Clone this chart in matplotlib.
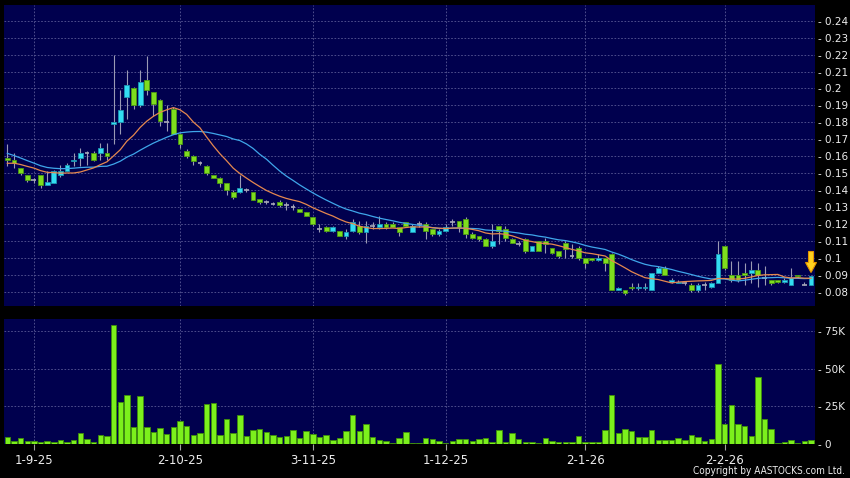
import numpy as np
import matplotlib
matplotlib.use('Agg')
import matplotlib.pyplot as plt
from matplotlib.patches import Rectangle, Polygon
from matplotlib.transforms import ScaledTranslation

# ---------------- data ----------------
tick_labels = ['1-9-25', '2-10-25', '3-11-25', '1-12-25', '2-1-26', '2-2-26']
tick_index = [4, 26, 46, 66, 87, 108]

open_ = [0.159, 0.158, 0.153, 0.149, 0.146, 0.149, 0.143, 0.144, 0.149, 0.151,
         0.157, 0.159, 0.162, 0.162, 0.162, 0.162, 0.179, 0.180, 0.195, 0.200,
         0.190, 0.205, 0.198, 0.193, 0.180, 0.188, 0.173, 0.163, 0.160, 0.156,
         0.154, 0.149, 0.147, 0.144, 0.139, 0.139, 0.140, 0.139, 0.135, 0.133,
         0.132, 0.133, 0.131, 0.130, 0.129, 0.127, 0.124, 0.117, 0.118, 0.116,
         0.116, 0.113, 0.116, 0.119, 0.115, 0.119, 0.118, 0.120, 0.120, 0.118,
         0.121, 0.115, 0.120, 0.120, 0.117, 0.114, 0.116, 0.121, 0.122, 0.123,
         0.114, 0.113, 0.111, 0.107, 0.119, 0.117, 0.111, 0.108, 0.111, 0.104,
         0.110, 0.110, 0.106, 0.104, 0.109, 0.101, 0.106, 0.100, 0.100, 0.099,
         0.100, 0.102, 0.081, 0.081, 0.083, 0.082, 0.082, 0.081, 0.091, 0.094,
         0.086, 0.085, 0.085, 0.084, 0.081, 0.084, 0.083, 0.085, 0.107, 0.090,
         0.090, 0.091, 0.091, 0.093, 0.088, 0.087, 0.087, 0.086, 0.084, 0.090,
         0.084, 0.084]
high = [0.167, 0.162, 0.153, 0.149, 0.147, 0.149, 0.151, 0.152, 0.155, 0.156,
        0.162, 0.165, 0.163, 0.163, 0.168, 0.168, 0.220, 0.199, 0.211, 0.201,
        0.211, 0.219, 0.198, 0.194, 0.190, 0.189, 0.174, 0.164, 0.161, 0.157,
        0.155, 0.149, 0.148, 0.144, 0.140, 0.149, 0.141, 0.139, 0.135, 0.134,
        0.133, 0.134, 0.133, 0.132, 0.129, 0.127, 0.124, 0.120, 0.119, 0.119,
        0.116, 0.117, 0.123, 0.122, 0.122, 0.121, 0.125, 0.121, 0.121, 0.118,
        0.121, 0.120, 0.122, 0.121, 0.117, 0.117, 0.120, 0.123, 0.122, 0.124,
        0.115, 0.113, 0.112, 0.120, 0.119, 0.119, 0.112, 0.110, 0.112, 0.107,
        0.110, 0.112, 0.106, 0.104, 0.110, 0.108, 0.107, 0.100, 0.100, 0.102,
        0.100, 0.103, 0.083, 0.081, 0.085, 0.085, 0.085, 0.091, 0.095, 0.095,
        0.088, 0.087, 0.086, 0.085, 0.085, 0.086, 0.086, 0.110, 0.107, 0.098,
        0.098, 0.097, 0.098, 0.097, 0.095, 0.087, 0.087, 0.088, 0.094, 0.090,
        0.086, 0.089]
low = [0.154, 0.153, 0.149, 0.145, 0.144, 0.141, 0.143, 0.144, 0.148, 0.151,
       0.154, 0.154, 0.155, 0.157, 0.158, 0.158, 0.167, 0.173, 0.182, 0.188,
       0.189, 0.196, 0.184, 0.178, 0.175, 0.173, 0.165, 0.159, 0.155, 0.155,
       0.149, 0.147, 0.142, 0.137, 0.135, 0.138, 0.139, 0.134, 0.132, 0.132,
       0.131, 0.130, 0.128, 0.128, 0.127, 0.125, 0.119, 0.115, 0.115, 0.115,
       0.113, 0.111, 0.115, 0.114, 0.109, 0.117, 0.117, 0.117, 0.118, 0.113,
       0.119, 0.115, 0.118, 0.111, 0.113, 0.113, 0.116, 0.119, 0.115, 0.112,
       0.111, 0.110, 0.107, 0.106, 0.108, 0.110, 0.109, 0.107, 0.103, 0.104,
       0.104, 0.103, 0.102, 0.100, 0.100, 0.100, 0.099, 0.094, 0.098, 0.098,
       0.092, 0.081, 0.081, 0.078, 0.081, 0.081, 0.081, 0.081, 0.091, 0.090,
       0.085, 0.085, 0.084, 0.080, 0.080, 0.081, 0.082, 0.085, 0.093, 0.086,
       0.086, 0.084, 0.085, 0.083, 0.084, 0.084, 0.085, 0.085, 0.084, 0.088,
       0.084, 0.084]
close = [0.158, 0.156, 0.150, 0.146, 0.146, 0.143, 0.145, 0.151, 0.151, 0.155,
         0.158, 0.162, 0.162, 0.158, 0.165, 0.160, 0.180, 0.187, 0.202, 0.190,
         0.204, 0.199, 0.191, 0.181, 0.180, 0.173, 0.167, 0.160, 0.157, 0.156,
         0.150, 0.147, 0.144, 0.140, 0.136, 0.141, 0.140, 0.134, 0.133, 0.133,
         0.132, 0.131, 0.131, 0.130, 0.127, 0.125, 0.120, 0.117, 0.116, 0.118,
         0.113, 0.115, 0.121, 0.115, 0.119, 0.119, 0.120, 0.118, 0.118, 0.115,
         0.119, 0.119, 0.120, 0.116, 0.114, 0.116, 0.118, 0.121, 0.118, 0.114,
         0.112, 0.111, 0.107, 0.110, 0.116, 0.112, 0.109, 0.108, 0.104, 0.107,
         0.104, 0.108, 0.103, 0.101, 0.105, 0.101, 0.100, 0.097, 0.099, 0.100,
         0.097, 0.081, 0.082, 0.079, 0.082, 0.083, 0.083, 0.091, 0.094, 0.090,
         0.087, 0.086, 0.085, 0.081, 0.084, 0.084, 0.085, 0.102, 0.094, 0.087,
         0.087, 0.090, 0.093, 0.090, 0.088, 0.085, 0.086, 0.087, 0.088, 0.089,
         0.084, 0.089]
# closes of the days just before the visible window (used for moving averages)
pre_close = [0.182, 0.179, 0.177, 0.175, 0.174, 0.166, 0.160, 0.156, 0.154, 0.153,
             0.155, 0.158, 0.157, 0.156, 0.158, 0.155, 0.153, 0.154, 0.154]

volume_k = [4.9, 2.2, 3.8, 2.0, 2.0, 1.3, 1.8, 1.6, 2.5, 1.6,
            2.9, 7.4, 3.3, 1.1, 6.2, 5.1, 79.0, 27.9, 32.6, 11.6,
            32.1, 11.6, 7.8, 10.7, 6.9, 11.4, 15.0, 12.1, 6.2, 7.6,
            26.3, 27.5, 6.0, 16.7, 7.6, 19.0, 5.6, 9.2, 10.0, 7.8,
            5.8, 4.7, 5.4, 9.4, 4.0, 8.9, 6.7, 4.7, 5.8, 2.7,
            4.2, 8.9, 19.0, 8.7, 13.6, 4.9, 2.5, 2.2, 0.7, 4.2,
            8.3, 0.7, 0.7, 4.0, 3.3, 2.2, 0.7, 2.0, 3.3, 3.3,
            2.0, 3.3, 4.0, 1.6, 9.6, 1.6, 7.4, 3.3, 1.6, 1.3,
            0.7, 4.2, 2.2, 1.3, 1.3, 1.6, 5.1, 1.6, 1.1, 1.1,
            9.6, 32.8, 7.4, 10.3, 8.7, 4.9, 4.5, 9.2, 2.7, 2.5,
            2.5, 4.2, 2.7, 6.2, 4.5, 1.8, 3.6, 53.3, 13.6, 25.9,
            13.6, 12.1, 5.4, 44.4, 16.5, 10.3, 0.7, 1.6, 2.9, 0.9,
            2.2, 2.5]

price_ticks = [0.08, 0.09, 0.10, 0.11, 0.12, 0.13, 0.14, 0.15, 0.16,
               0.17, 0.18, 0.19, 0.20, 0.21, 0.22, 0.23, 0.24]
vol_ticks = [0, 25000, 50000, 75000]
vol_tick_labels = ['0', '25K', '50K', '75K']

# ---------------- style ----------------
BG = '#000000'
PANEL = '#00004E'
GRID = '#5A5A96'
GREEN = '#7FDD1E'
GREEN_EDGE = '#4C9A12'
CYAN = '#33DDF2'
CYAN_EDGE = '#1C97B2'
WICK = '#9A9AB4'
DOJI = '#A8A8B8'
TXT = '#EDEDED'

n = len(close)
idx = np.arange(n)
all_close = np.array(pre_close + close)


def sma(values, period):
    out = np.convolve(values, np.ones(period) / period, mode='valid')
    return out[-n:]


ma10 = sma(all_close, 10)
ma20 = sma(all_close, 20)

W, H = 850, 478
fig = plt.figure(figsize=(W / 100, H / 100), dpi=100, facecolor=BG)
ax = fig.add_axes([4 / W, 1 - 306 / H, 811 / W, 301 / H])
axv = fig.add_axes([4 / W, 1 - 444 / H, 811 / W, 125 / H])

for a in (ax, axv):
    a.set_facecolor(PANEL)
    for s in a.spines.values():
        s.set_visible(False)
    a.set_xlim(-0.5, 121.6)
    for t in tick_index:
        a.axvline(t, color=GRID, lw=0.6, dashes=(2, 2), zorder=0.5)

# price grid
for p in price_ticks:
    ax.axhline(p, color=GRID, lw=0.6, dashes=(2, 2), zorder=0.5)
ax.set_ylim(0.07158, 0.24927)

# candles
bw = 0.72
for i in idx:
    o, h, l, c = open_[i], high[i], low[i], close[i]
    ax.vlines(i, l, h, color=WICK, lw=0.8, zorder=2)
    if abs(c - o) < 1e-9:
        ax.hlines(o, i - bw / 2, i + bw / 2, color=DOJI, lw=1.2, zorder=3)
    else:
        fc, ec = (CYAN, CYAN_EDGE) if c > o else (GREEN, GREEN_EDGE)
        ax.add_patch(Rectangle((i - bw / 2, min(o, c)), bw, abs(c - o),
                               facecolor=fc, edgecolor=ec, lw=0.6, zorder=3))

ax.plot(idx, ma20, color='#3FA6EA', lw=0.9, zorder=4)
ax.plot(idx, ma10, color='#E5884E', lw=0.9, zorder=4)

# yellow marker arrow over the last candle
anchor = ScaledTranslation(idx[-1], high[-1], ax.transData)
tr = fig.dpi_scale_trans + anchor
px = 1 / 100.0
arrow_pts = np.array([[0, 4], [-5.5, 14], [-2.5, 14], [-2.5, 25],
                      [2.5, 25], [2.5, 14], [5.5, 14]]) * px
ax.add_patch(Polygon(arrow_pts, closed=True, transform=tr, facecolor='#FFD21E',
                     edgecolor='#E39400', lw=0.8, zorder=6, clip_on=False))

ax.yaxis.tick_right()
ax.set_yticks(price_ticks)
ax.set_yticklabels(['- ' + ('%g' % p) for p in price_ticks])
ax.tick_params(axis='y', length=0, pad=2.5, labelsize=7.5, labelcolor=TXT)
ax.set_xticks([])

# volume
axv.bar(idx, np.array(volume_k) * 1000, width=0.82, color='#7CF01C',
        edgecolor='#3F8F0A', lw=0.6, zorder=3)
for v in vol_ticks[1:]:
    axv.axhline(v, color=GRID, lw=0.6, dashes=(2, 2), zorder=0.5)
axv.set_ylim(0, 83200)
axv.yaxis.tick_right()
axv.set_yticks(vol_ticks)
axv.set_yticklabels(['- ' + s for s in vol_tick_labels])
axv.tick_params(axis='y', length=0, pad=2.5, labelsize=7.5, labelcolor=TXT)
axv.set_xticks(tick_index)
axv.set_xticklabels(tick_labels)
axv.tick_params(axis='x', length=4, width=0.8, color='#A0A0A0', pad=3,
                labelsize=8.5, labelcolor=TXT)

fig.text(845 / W, 1 - 471 / H, 'Copyright by AASTOCKS.com Ltd.', ha='right',
         va='center', fontsize=7.2, color=TXT, fontstretch='condensed')

fig.savefig('out.png', dpi=100, facecolor=BG)
